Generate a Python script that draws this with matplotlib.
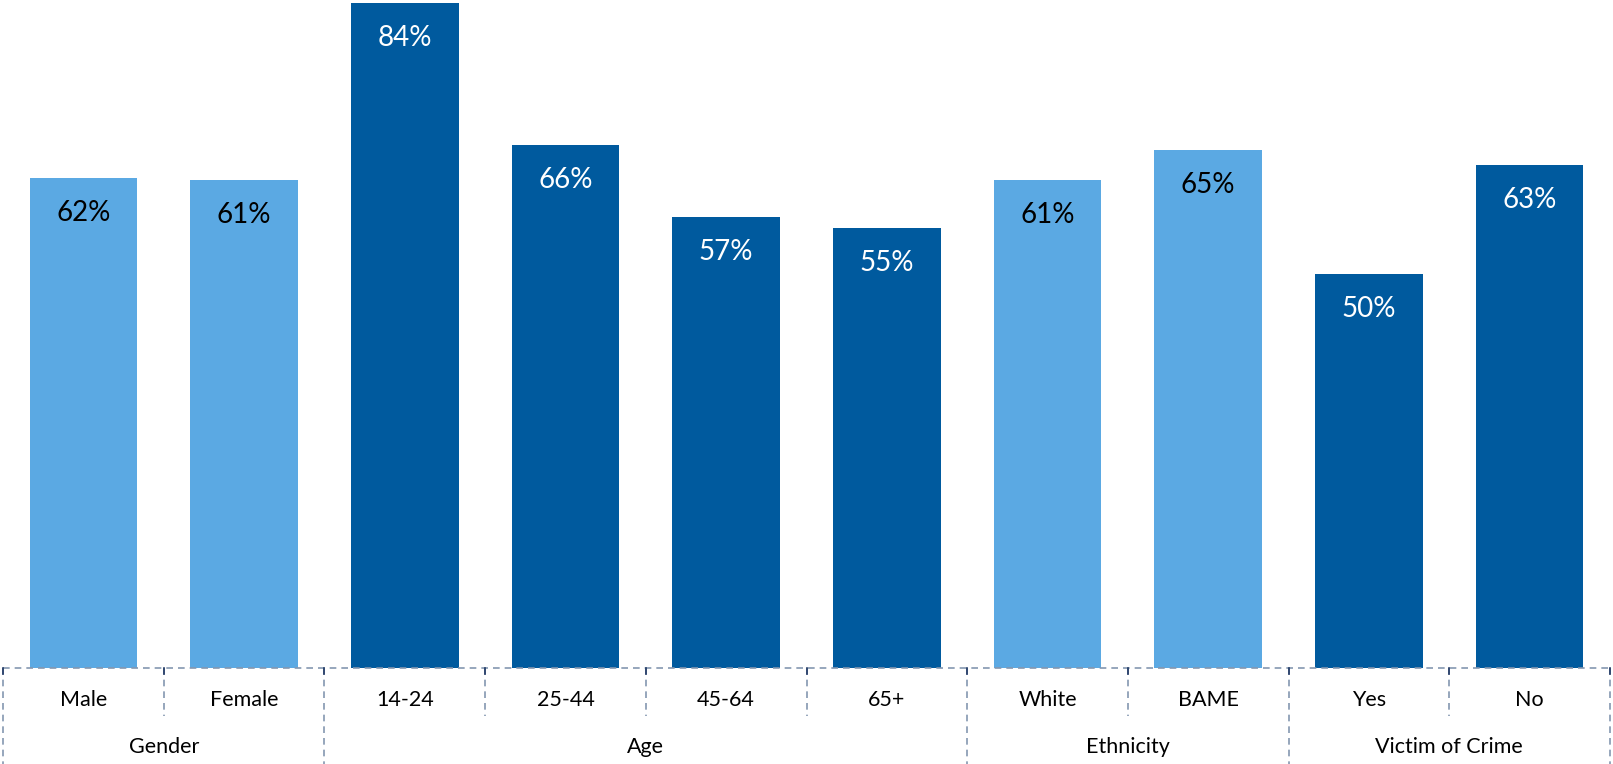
import matplotlib.pyplot as plt
import matplotlib.transforms as mtransforms

categories = ['Male', 'Female', '14-24', '25-44', '45-64', '65+', 'White', 'BAME', 'Yes', 'No']
heights = [61.9, 61.6, 84.0, 66.1, 57.0, 55.6, 61.6, 65.4, 49.8, 63.5]
labels = [62, 61, 84, 66, 57, 55, 61, 65, 50, 63]
groups = ['Gender', 'Age', 'Ethnicity', 'Victim of Crime']
group_sizes = [2, 4, 2, 2]
group_shades = ['light', 'dark', 'light', 'dark']

LIGHT = '#5BA9E3'
DARK = '#005A9E'
LINE = '#8497B0'

plt.rcParams['font.family'] = ['Lato', 'DejaVu Sans']

fig = plt.figure(figsize=(16.13, 7.64), dpi=100)
ax = fig.add_axes([3 / 1613, 96 / 764, 1607 / 1613, 668 / 764])

colors = []
for shade, n in zip(group_shades, group_sizes):
    colors += [LIGHT if shade == 'light' else DARK] * n

x = list(range(len(categories)))
ax.bar(x, heights, width=0.67, color=colors)
ax.set_xlim(-0.5, len(categories) - 0.5)
ax.set_ylim(0, 84.4)

for xi, h, lab, c in zip(x, heights, labels, colors):
    ax.annotate(f'{lab}%', (xi, h), xytext=(0, -25), textcoords='offset points',
                ha='center', va='center', fontsize=20,
                color='white' if c == DARK else 'black')

ax.axis('off')
trans = mtransforms.blended_transform_factory(ax.transData, fig.transFigure)
# axis line
ax.plot([-0.5, len(categories) - 0.5], [96 / 764, 96 / 764], transform=trans,
        color=LINE, lw=1.2, ls=(0, (4, 3)), clip_on=False)

# category labels and separators
for xi, cat in zip(x, categories):
    ax.text(xi, 64 / 764, cat, transform=trans, ha='center', va='center', fontsize=15.5)

bounds = [-0.5]
for n in group_sizes:
    bounds.append(bounds[-1] + n)
for b in range(len(categories) + 1):
    pos = b - 0.5
    bottom = 0 if pos in bounds else 48 / 764
    ax.plot([pos, pos], [96 / 764, bottom], transform=trans, color=LINE, lw=1.2,
            ls=(0, (4, 3)), clip_on=False)
    # short solid tick at the axis
    ax.plot([pos, pos], [96 / 764, 90 / 764], transform=trans, color='#1F3864', lw=1.2,
            clip_on=False)

for i, g in enumerate(groups):
    mid = (bounds[i] + bounds[i + 1]) / 2
    ax.text(mid, 17 / 764, g, transform=trans, ha='center', va='center', fontsize=15.5)

fig.savefig('out.png', dpi=100)
